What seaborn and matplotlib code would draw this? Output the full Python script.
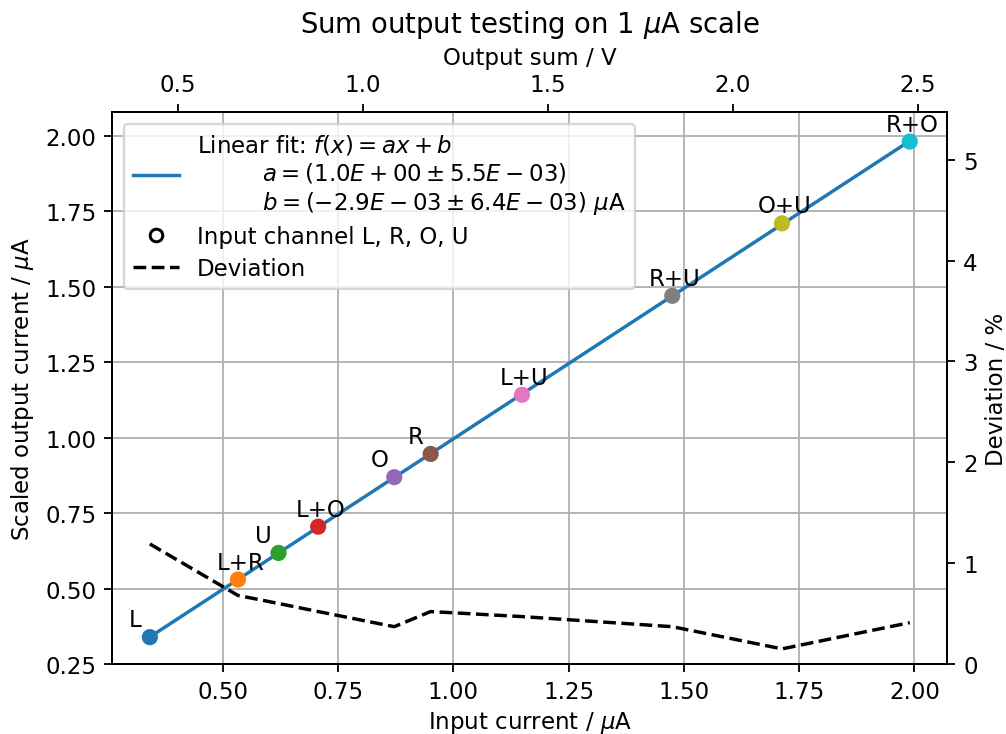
import numpy as np
import pandas as pd
import matplotlib
matplotlib.use("Agg")
import matplotlib.pyplot as plt
import seaborn as sns
from matplotlib.lines import Line2D

# ---- data ----
labels = ['L', 'L+R', 'U', 'L+O', 'O', 'R', 'L+U', 'R+U', 'O+U', 'R+O']
input_current = [0.342, 0.533, 0.621, 0.707, 0.872, 0.951, 1.149, 1.475, 1.713, 1.990]
output_current = [0.339, 0.530, 0.618, 0.705, 0.869, 0.946, 1.142, 1.470, 1.710, 1.981]
deviation = [1.19, 0.68, 0.60, 0.52, 0.37, 0.52, 0.47, 0.37, 0.15, 0.41]

bottom_ticks = [0.50, 0.75, 1.00, 1.25, 1.50, 1.75, 2.00]
left_ticks = [0.25, 0.50, 0.75, 1.00, 1.25, 1.50, 1.75, 2.00]
right_ticks = [0, 1, 2, 3, 4, 5]
top_ticks = [0.5, 1.0, 1.5, 2.0, 2.5]

fit_label = ("Linear fit: $f(x) = ax + b$\n"
             "         $a = (1.0E+00 \\pm 5.5E-03)$\n"
             "         $b = (-2.9E-03 \\pm 6.4E-03)$ $\\mu$A")

df = pd.DataFrame({'label': labels, 'x': input_current, 'y': output_current,
                   'dev': deviation})
slope, intercept = np.polyfit(df['x'], df['y'], 1)
df['fit'] = slope * df['x'] + intercept

plt.rcParams['font.family'] = ['DejaVu Sans']
plt.rcParams['font.size'] = 10
plt.rcParams['mathtext.fontset'] = 'dejavusans'

DPI = 165
fig = plt.figure(figsize=(1006 / DPI, 735 / DPI), dpi=DPI)
ax = fig.add_axes([112.3 / 1006, 1 - 665 / 735, (947.3 - 112.3) / 1006, (665 - 113.3) / 735])

ax.grid(True, color='#b0b0b0', linewidth=0.8)
ax.set_axisbelow(True)

sns.lineplot(data=df, x='x', y='fit', ax=ax, color='#1f77b4', linewidth=1.5,
             sort=False, legend=False)
sns.scatterplot(data=df, x='x', y='y', hue='label', palette='tab10',
                hue_order=labels, s=50, linewidth=0, ax=ax, legend=False,
                zorder=3)

for lab, xv, yv in zip(df['label'], df['x'], df['y']):
    dx = -6.5 if len(lab) == 1 else 1.0
    ax.annotate(lab, (xv, yv), xytext=(dx, 7.6), textcoords='offset points',
                ha='center', va='center', fontsize=10)

ax.set_xlim(0.2605, 2.0715)
ax.set_ylim(0.25, 2.078)
ax.set_xticks(bottom_ticks)
ax.set_yticks(left_ticks)
ax.set_xticklabels([f"{t:.2f}" for t in bottom_ticks])
ax.set_yticklabels([f"{t:.2f}" for t in left_ticks])
ax.set_xlabel('Input current / $\\mu$A', labelpad=2.5)
ax.set_ylabel('Scaled output current / $\\mu$A')

ax2 = ax.twinx()
sns.lineplot(data=df, x='x', y='dev', ax=ax2, color='black', linestyle='--',
             linewidth=1.5, sort=False, legend=False)
ax2.set_ylim(0, 5.47)
ax2.set_yticks(right_ticks)
ax2.set_ylabel('Deviation / %', labelpad=3)
ax2.set_xlabel('')

ax3 = ax.twiny()
ax3.set_xlim(0.323, 2.580)
ax3.set_xticks(top_ticks)
ax3.set_xlabel('Output sum / V')
ax3.set_title('Sum output testing on 1 $\\mu$A scale', fontsize=12, pad=6)

handles = [
    Line2D([], [], color='#1f77b4', linewidth=1.5),
    Line2D([], [], color='black', marker='o', markerfacecolor='none',
           linestyle='none', markersize=5.5, markeredgewidth=1.3),
    Line2D([], [], color='black', linestyle='--', linewidth=1.5),
]
leg_labels = [fit_label, 'Input channel L, R, O, U', 'Deviation']
leg = ax3.legend(handles, leg_labels, loc='upper left', framealpha=0.8,
                 fontsize=10, labelspacing=0.4)

fig.savefig('out.png', dpi=DPI)
